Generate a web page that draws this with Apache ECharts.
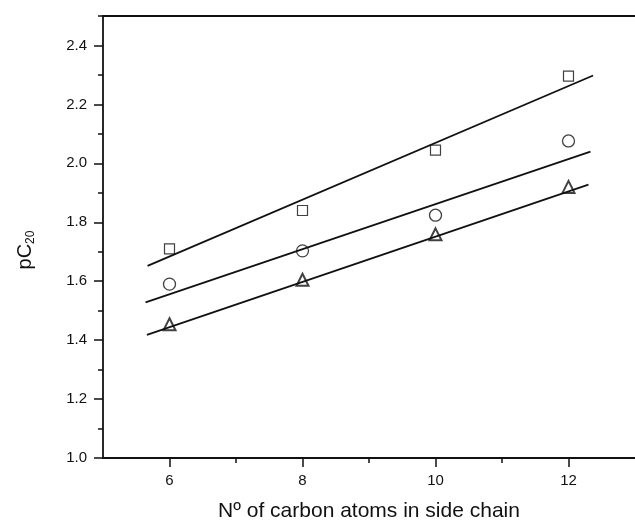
<!DOCTYPE html>
<html>
<head>
<meta charset="utf-8">
<script src="https://cdn.jsdelivr.net/npm/echarts@6/dist/echarts.min.js"></script>
<style>
  html, body { margin: 0; padding: 0; background: #fff; }
  #chart { width: 635px; height: 527px; }
</style>
</head>
<body>
<div id="chart"></div>
<script>
  // carbon atoms in side chain
  const carbons = [6, 8, 10, 12]
  // pC20 values
  const squareVals = [1.71, 1.84, 2.045, 2.296]
  const circleVals = [1.59, 1.703, 1.824, 2.076]
  const triangleVals = [1.454, 1.605, 1.759, 1.92]
  // fitted lines, end points
  const squareFit = [[5.67, 1.652], [12.37, 2.298]]
  const circleFit = [[5.64, 1.528], [12.33, 2.04]]
  const triangleFit = [[5.66, 1.418], [12.3, 1.928]]
  // ticks
  const xMajor = [6, 8, 10, 12]
  const xMinor = [7, 9, 11]
  const yMajor = [1.0, 1.2, 1.4, 1.6, 1.8, 2.0, 2.2, 2.4]
  const yMinor = [1.1, 1.3, 1.5, 1.7, 1.9, 2.1, 2.3, 2.5]

  const pts = (vals)=> carbons.map((c, i)=> [c, vals[i]])

  const font = 'Liberation Sans, Arial, sans-serif'
  const black = '#111'

  const mychart = echarts.init(document.getElementById('chart'))

  const fitLine = (data)=> ({
    type: 'line',
    data: data,
    symbol: 'none',
    silent: true,
    lineStyle: { color: black, width: 1.8 }
  })
  const markers = (data, symbol, size, bw)=> ({
    type: 'scatter',
    data: data,
    symbol: symbol,
    symbolSize: size,
    itemStyle: { color: '#fff', borderColor: black, borderWidth: bw }
  })
  // extra axis that only draws short minor ticks
  const minorAxis = (pos, min, max, vals)=> ({
    type: 'value',
    min: min,
    max: max,
    position: pos,
    splitLine: { show: false },
    axisLine: { show: false, onZero: false },
    axisTick: { show: true, customValues: vals, length: 5, lineStyle: { color: black, width: 1.5 } },
    axisLabel: { show: false }
  })

  let option = {
    animation: false,
    backgroundColor: '#fff',
    grid: { left: 103, right: -8, top: 16, bottom: 65 },
    xAxis: [
      {
        type: 'value',
        min: 5,
        max: 13,
        position: 'bottom',
        splitLine: { show: false },
        axisLine: { show: true, onZero: false, lineStyle: { color: black, width: 1.8 } },
        axisTick: { show: true, customValues: xMajor, length: 9, lineStyle: { color: black, width: 1.5 } },
        axisLabel: { customValues: xMajor, margin: 15, color: black, fontSize: 15, fontFamily: font },
        name: 'Nº of carbon atoms in side chain',
        nameLocation: 'middle',
        nameGap: 43,
        nameTextStyle: { color: black, fontSize: 21, fontFamily: font }
      },
      minorAxis('bottom', 5, 13, xMinor),
      {
        type: 'value',
        min: 5,
        max: 13,
        position: 'top',
        splitLine: { show: false },
        axisLine: { show: true, onZero: false, lineStyle: { color: black, width: 1.8 } },
        axisTick: { show: false },
        axisLabel: { show: false }
      }
    ],
    yAxis: [
      {
        type: 'value',
        min: 1.0,
        max: 2.5,
        position: 'left',
        splitLine: { show: false },
        axisLine: { show: true, onZero: false, lineStyle: { color: black, width: 1.8 } },
        axisTick: { show: true, customValues: yMajor, length: 9, lineStyle: { color: black, width: 1.5 } },
        axisLabel: {
          customValues: yMajor,
          margin: 16,
          color: black,
          fontSize: 15,
          fontFamily: font,
          formatter: (v)=> v.toFixed(1)
        },
        name: 'pC{sub|20}',
        nameLocation: 'middle',
        nameGap: 66,
        nameTextStyle: {
          color: black,
          fontSize: 20,
          fontFamily: font,
          lineHeight: 24,
          padding: [0, 26, 0, 0],
          rich: {
            sub: { fontSize: 12, fontFamily: font, color: black, verticalAlign: 'bottom', lineHeight: 24 }
          }
        }
      },
      minorAxis('left', 1.0, 2.5, yMinor)
    ],
    series: [
      fitLine(squareFit),
      fitLine(circleFit),
      fitLine(triangleFit),
      markers(pts(squareVals), 'rect', 10, 1.2),
      markers(pts(circleVals), 'circle', 12, 1.3),
      markers(pts(triangleVals), 'triangle', 12, 2)
    ]
  }
  mychart.setOption(option)
</script>
</body>
</html>
